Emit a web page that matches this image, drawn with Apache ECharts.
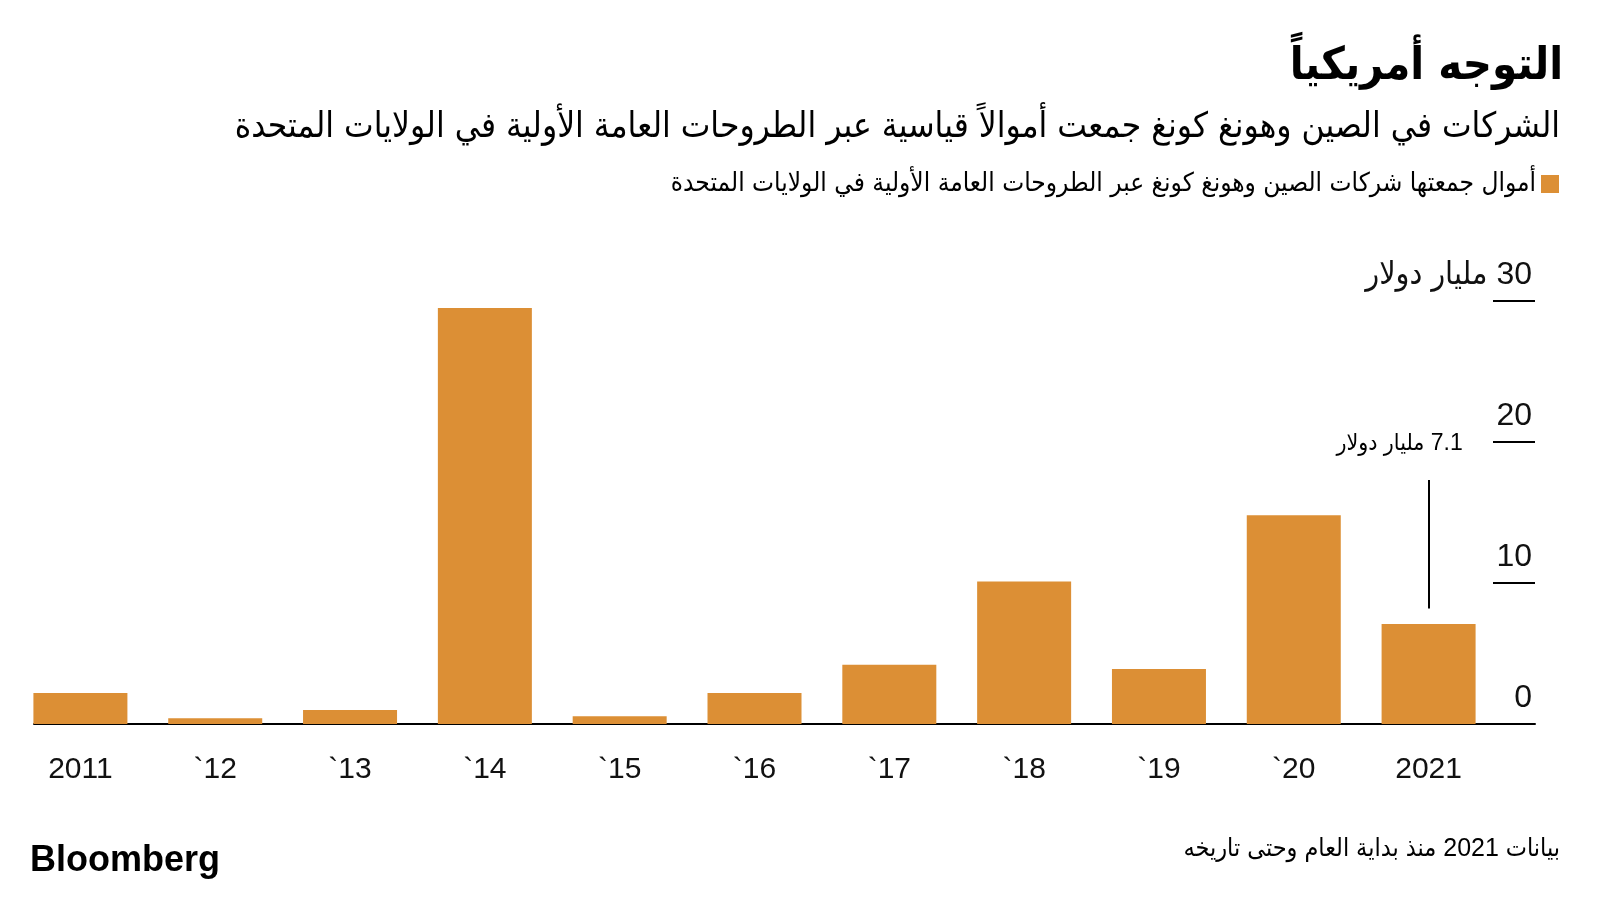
<!DOCTYPE html>
<html>
<head>
<meta charset="utf-8">
<script src="https://cdn.jsdelivr.net/npm/echarts@6/dist/echarts.min.js"></script>
<style>
html,body{margin:0;padding:0;background:#fff;}
#c{width:1600px;height:900px;}
</style>
</head>
<body>
<div id="c"></div>
<script>
const categories = ['2011', '`12', '`13', '`14', '`15', '`16', '`17', '`18', '`19', '`20', '2021'];
const values = [2.2, 0.4, 1.0, 29.5, 0.55, 2.2, 4.2, 10.1, 3.9, 14.8, 7.1];
const yTicks = [0, 10, 20, 30];
const seriesName = 'أموال جمعتها شركات الصين وهونغ كونغ عبر الطروحات العامة الأولية في الولايات المتحدة';
const titleText = 'التوجه أمريكياً';
const subtitleText = 'الشركات في الصين وهونغ كونغ جمعت أموالاً قياسية عبر الطروحات العامة الأولية في الولايات المتحدة';
const unitText = 'مليار دولار';
const annotationValue = 7.1;
const annotationRange = [8.2, 17.3];
const footnote = 'بيانات 2021 منذ بداية العام وحتى تاريخه';
const RLM = '\u200F';

const AR = "'DejaVu Sans Condensed', 'DejaVu Sans', sans-serif";
const NUM = "'Liberation Sans', 'DejaVu Sans Condensed', 'DejaVu Sans', sans-serif";
const barColor = '#DC8F35';

const chart = echarts.init(document.getElementById('c'), null, {renderer: 'canvas'});
chart.setOption({
  backgroundColor: '#fff',
  animation: false,
  title: [
    {text: titleText, right: 32, top: 40, textStyle: {fontFamily: AR, fontWeight: 'bold', fontSize: 45, color: '#000'}},
    {text: subtitleText, right: 35, top: 105, textStyle: {fontFamily: AR, fontWeight: 'normal', fontSize: 35, color: '#000'}},
    {text: 'Bloomberg', left: 25, top: 838, textStyle: {fontFamily: "'Liberation Sans', Arial, sans-serif", fontWeight: 'bold', fontSize: 36, color: '#000'}},
    {text: footnote, right: 35, top: 832, textStyle: {fontFamily: NUM, fontWeight: 'normal', fontSize: 25, color: '#000'}}
  ],
  legend: {
    data: [seriesName],
    right: 36, top: 166,
    align: 'right',
    icon: 'rect', itemWidth: 18, itemHeight: 18,
    textStyle: {fontFamily: AR, fontSize: 26, color: '#000', padding: [0, 0, 0, 0]}
  },
  grid: [
    {left: 13, right: 104, top: 301, bottom: 176},
    {left: 34, right: 65, top: 301, bottom: 176}
  ],
  xAxis: [
    {
      type: 'category', data: categories, gridIndex: 0,
      axisLine: {show: false}, axisTick: {show: false},
      axisLabel: {margin: 31, fontFamily: NUM, fontSize: 30, color: '#111'}
    },
    {
      type: 'category', data: categories, gridIndex: 1,
      axisLine: {show: true, lineStyle: {color: '#000', width: 2}},
      axisTick: {show: false}, axisLabel: {show: false}, splitLine: {show: false}
    }
  ],
  yAxis: [
    {type: 'value', gridIndex: 0, min: 0, max: 30, interval: 10, show: false},
    {
      type: 'value', gridIndex: 1, position: 'right', min: 0, max: 30, interval: 10,
      axisLine: {show: false},
      splitLine: {show: false},
      axisTick: {show: true, inside: true, length: 42, lineStyle: {color: '#000', width: 2}},
      axisLabel: {
        inside: true, margin: 3, align: 'right', verticalAlign: 'bottom',
        padding: [0, 0, 10, 0],
        fontFamily: NUM, fontSize: 32, color: '#111',
        formatter: function (v) { return v === yTicks[yTicks.length - 1] ? RLM + v + ' ' + unitText : String(v); }
      }
    }
  ],
  series: [
    {
      name: seriesName, type: 'bar', data: values,
      xAxisIndex: 0, yAxisIndex: 0,
      barWidth: 94,
      itemStyle: {color: barColor},
      markLine: {
        silent: true, symbol: 'none',
        lineStyle: {color: '#000', width: 2, type: 'solid'},
        label: {
          show: true, position: 'end',
          formatter: RLM + annotationValue + ' ' + unitText,
          fontFamily: NUM, fontSize: 23, color: '#000',
          padding: [0, 58, 20, 0]
        },
        data: [[
          {coord: [categories[categories.length - 1], annotationRange[0]]},
          {coord: [categories[categories.length - 1], annotationRange[1]]}
        ]]
      }
    }
  ]
});
</script>
</body>
</html>
